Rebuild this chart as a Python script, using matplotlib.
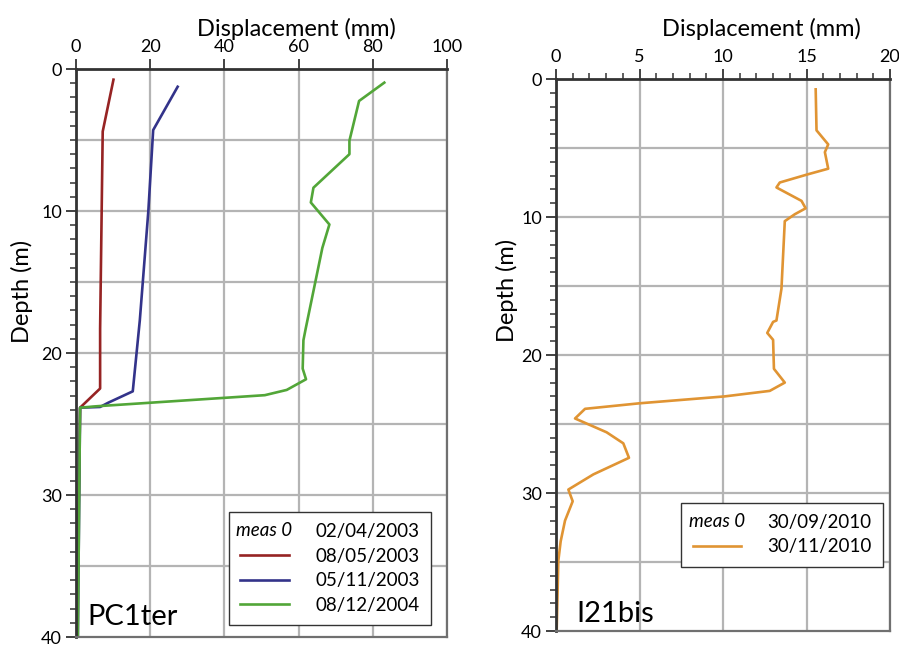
import matplotlib
matplotlib.use("Agg")
import matplotlib.pyplot as plt
from matplotlib.legend_handler import HandlerBase
from matplotlib.text import Text
from matplotlib.ticker import MultipleLocator

plt.rcParams['font.family'] = ['Lato', 'DejaVu Sans']

# --- PC1ter (left panel) ---
red_disp = [10.1, 7.2, 6.5, 6.5, 1.1, 0.2]
red_depth = [0.75, 4.4, 18.3, 22.5, 23.85, 40]

blue_disp = [27.4, 20.8, 19.5, 17.2, 15.3, 8.7, 6.5, 1.1, 0.5]
blue_depth = [1.25, 4.3, 10.0, 17.7, 22.7, 23.5, 23.8, 23.85, 40]

green_disp = [83.1, 76.3, 73.7, 73.7, 64.0, 63.3, 68.3, 66.4, 61.9, 61.3, 61.1,
              62.0, 56.8, 50.9, 5.6, 1.1, 0.5]
green_depth = [0.96, 2.25, 5.05, 6.0, 8.36, 9.4, 10.95, 12.6, 18.3, 19.1, 21.1,
               21.85, 22.6, 22.97, 23.75, 23.85, 40]

left_dates = ["08/05/2003", "05/11/2003", "08/12/2004"]
left_ref = "02/04/2003"

# --- I21bis (right panel) ---
orange_disp = [15.55, 15.6, 16.3, 16.1, 16.3, 15.1, 13.4, 13.2, 14.7, 14.95, 14.3,
               13.7, 13.5, 13.2, 13.0, 12.65, 13.0, 13.05, 13.7, 12.8, 10.1, 5.0,
               1.74, 1.14, 3.03, 4.03, 4.37, 2.24, 0.74, 1.0, 0.54, 0.28, 0.14, 0.04]
orange_depth = [0.75, 3.72, 4.74, 5.3, 6.5, 6.9, 7.5, 7.86, 8.83, 9.37, 9.8,
                10.3, 15.2, 17.5, 17.6, 18.4, 18.9, 21.0, 22.0, 22.6, 23.0, 23.5,
                23.9, 24.6, 25.6, 26.4, 27.45, 28.65, 29.75, 30.6, 32.0, 33.5, 34.9, 40]
right_dates = ["30/11/2010"]
right_ref = "30/09/2010"

grid_depths = [5, 10, 15, 20, 25, 30, 35]


class MeasZero:
    pass


class HandlerMeas(HandlerBase):
    def create_artists(self, legend, orig_handle, xdescent, ydescent, width,
                       height, fontsize, trans):
        t = Text(width / 2 - xdescent, height / 2 - ydescent, "meas 0",
                 ha="center", va="center", style="italic", fontsize=fontsize,
                 transform=trans, family=['Lato', 'DejaVu Sans'])
        return [t]


def style_axes(ax, xmax, xmajor, xminor):
    ax.set_xlim(0, xmax)
    ax.set_ylim(40, 0)
    ax.xaxis.tick_top()
    ax.xaxis.set_major_locator(MultipleLocator(xmajor))
    if xminor:
        ax.xaxis.set_minor_locator(MultipleLocator(xminor))
    ax.yaxis.set_major_locator(MultipleLocator(10))
    ax.yaxis.set_minor_locator(MultipleLocator(1))
    ax.tick_params(axis="both", which="major", labelsize=13, length=7,
                   width=1.3, color="#333333", direction="out")
    ax.tick_params(axis="both", which="minor", length=4, width=1.1,
                   color="#333333", direction="out")
    ax.tick_params(axis="x", pad=3)
    ax.tick_params(axis="y", pad=3)
    ax.grid(True, axis="x", which="major", color="#b4b4b4", linewidth=1.6)
    for d in grid_depths:
        ax.axhline(d, color="#b4b4b4", linewidth=1.6, zorder=0.5)
    ax.set_axisbelow(True)
    for s in ["left", "top"]:
        ax.spines[s].set_color("#333333")
        ax.spines[s].set_linewidth(2.0)
    for s in ["right", "bottom"]:
        ax.spines[s].set_color("#707070")
        ax.spines[s].set_linewidth(1.6)


fig = plt.figure(figsize=(8.99, 6.51), dpi=100)

# left panel
ax1 = fig.add_axes([76 / 899, 14 / 651, 371 / 899, 568 / 651])
style_axes(ax1, 100, 20, None)
l1, = ax1.plot(red_disp, red_depth, color="#962323", lw=1.9)
l2, = ax1.plot(blue_disp, blue_depth, color="#33338a", lw=1.9)
l3, = ax1.plot(green_disp, green_depth, color="#52a638", lw=1.9)
ax1.text(0.032, 0.021, "PC1ter", transform=ax1.transAxes, fontsize=21,
         ha="left", va="baseline")
leg1 = ax1.legend([MeasZero(), l1, l2, l3], [left_ref] + left_dates,
                  handler_map={MeasZero: HandlerMeas()}, loc="lower right",
                  bbox_to_anchor=(0.956, 0.021), borderaxespad=0, fontsize=13.5,
                  fancybox=False, framealpha=1, edgecolor="#333333",
                  handlelength=2.6, handletextpad=1.4, labelspacing=0.4,
                  borderpad=0.6)
leg1.get_frame().set_linewidth(1.0)

# right panel
ax2 = fig.add_axes([556 / 899, 20 / 651, 334 / 899, 552 / 651])
style_axes(ax2, 20, 5, 1)
l4, = ax2.plot(orange_disp, orange_depth, color="#e09433", lw=1.9)
ax2.text(0.062, 0.017, "I21bis", transform=ax2.transAxes, fontsize=21,
         ha="left", va="baseline")
leg2 = ax2.legend([MeasZero(), l4], [right_ref] + right_dates,
                  handler_map={MeasZero: HandlerMeas()}, loc="lower right",
                  bbox_to_anchor=(0.98, 0.1165), borderaxespad=0, fontsize=13.5,
                  fancybox=False, framealpha=1, edgecolor="#333333",
                  handlelength=2.6, handletextpad=1.4, labelspacing=0.4,
                  borderpad=0.6)
leg2.get_frame().set_linewidth(1.0)

# axis titles
fig.text(296 / 899, 1 - 36 / 651, "Displacement (mm)", ha="center",
         va="baseline", fontsize=17)
fig.text(761 / 899, 1 - 36 / 651, "Displacement (mm)", ha="center",
         va="baseline", fontsize=17)
fig.text(22 / 899, 1 - 291 / 651, "Depth (m)", ha="center", va="center",
         rotation=90, fontsize=17)
fig.text(507 / 899, 1 - 290 / 651, "Depth (m)", ha="center", va="center",
         rotation=90, fontsize=17)

fig.savefig("out.png", dpi=100)
